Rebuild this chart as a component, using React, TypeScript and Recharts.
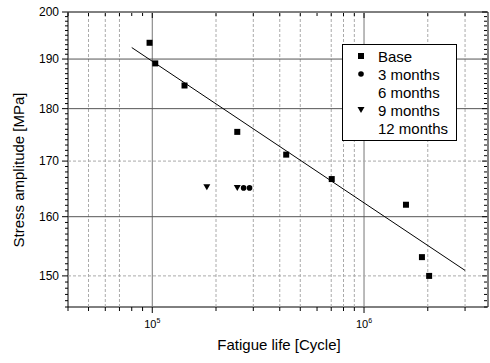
import React from "react";
import { ScatterChart, Scatter, XAxis, YAxis, ReferenceLine, ReferenceArea, Legend } from "recharts";

// fatigue data
const baseLife = [97100, 103300, 142000, 252000, 429000, 704000, 1578000, 1877000, 2030000];
const baseStress = [193.4, 189.1, 184.6, 175.5, 171.2, 166.7, 162.1, 153.1, 150.0];
const month3Life = [270000, 288000];
const month3Stress = [165.1, 165.1];
const month9Life = [181000, 252000];
const month9Stress = [165.2, 165.1];
const fitLife = [80000, 3000000];
const fitStress = [192.4, 150.9];

const legendNames = ["Base", "3 months", "6 months", "9 months", "12 months"];
const legendShapes = ["square", "circle", "", "triangle", ""];

const xDomain = [40000, 3850000];
const yDomain = [145, 200];
const xTicks = [
  40000, 50000, 60000, 70000, 80000, 90000,
  100000, 200000, 300000, 400000, 500000, 600000, 700000, 800000, 900000,
  1000000, 2000000, 3000000,
];
const xMajor = [100000, 1000000];
const xSolidGrid = [100000, 1000000];
const xDashGrid = [50000, 60000, 70000, 200000, 300000, 400000, 500000, 700000, 800000, 900000, 2000000, 3000000];

const yLabels = [150, 160, 170, 180, 190, 200];
const yTicks = Array.from({ length: 56 }, (_, i) => 145 + i);
const ySolidGrid = [160, 180, 190];
const yDashGrid = [150, 170];

const toPoints = (xs: number[], ys: number[]) => xs.map((x, i) => ({ x, y: ys[i] }));

const FONT = "Arial, 'Liberation Sans', sans-serif";

const Square = (p: any) => <rect x={p.cx - 3} y={p.cy - 3} width={6} height={6} fill="#000" />;
const Dot = (p: any) => <circle cx={p.cx} cy={p.cy} r={2.8} fill="#000" />;
const Tri = (p: any) => (
  <path d={`M${p.cx - 3.5},${p.cy - 3}L${p.cx + 3.5},${p.cy - 3}L${p.cx},${p.cy + 3}Z`} fill="#000" />
);
const NoShape = () => <g />;

const BottomTick = (p: any) => {
  const v = p.payload.value;
  const major = xMajor.includes(v);
  return (
    <g>
      <line x1={p.x} x2={p.x} y1={p.y} y2={p.y + (major ? 6 : 4)} stroke="#000" strokeWidth={1} />
      {major && (
        <text x={p.x} y={p.y + 21} textAnchor="middle" fontSize={11} fontFamily={FONT} fill="#000">
          10
          <tspan fontSize={7} dy={-5}>{Math.round(Math.log10(v))}</tspan>
        </text>
      )}
    </g>
  );
};

// top axis sits 1px above the plot, ticks point down into it
const TopTick = (p: any) => {
  const major = xMajor.includes(p.payload.value);
  return <line x1={p.x} x2={p.x} y1={p.y + 1} y2={p.y + 1 + (major ? 5 : 3)} stroke="#000" strokeWidth={1} />;
};

const LeftTick = (p: any) => {
  const v = p.payload.value;
  const major = yLabels.includes(v);
  return (
    <g>
      <line x1={p.x - (major ? 6 : 3)} x2={p.x} y1={p.y} y2={p.y} stroke="#000" strokeWidth={1} />
      {major && (
        <text x={p.x - 9} y={p.y + 4} textAnchor="end" fontSize={12} fontFamily={FONT} fill="#000">
          {v}
        </text>
      )}
    </g>
  );
};

// right axis sits 1px right of the plot, ticks point left into it
const RightTick = (p: any) => {
  const major = yLabels.includes(p.payload.value);
  return <line x1={p.x - 1 - (major ? 5 : 3)} x2={p.x - 1} y1={p.y} y2={p.y} stroke="#000" strokeWidth={1} />;
};

const XTitle = () => (
  <text x={279} y={350} textAnchor="middle" fontSize={15} fontFamily={FONT} fill="#000">
    Fatigue life [Cycle]
  </text>
);

const YTitle = () => (
  <text
    x={24}
    y={170}
    transform="rotate(-90 24 170)"
    textAnchor="middle"
    fontSize={15}
    fontFamily={FONT}
    fill="#000"
  >
    Stress amplitude [MPa]
  </text>
);

const LegendBox = () => (
  <div
    style={{
      border: "1px solid #000",
      background: "#fff",
      width: 113,
      padding: "2px 0 3px 0",
      fontFamily: FONT,
      fontSize: 15,
      color: "#000",
    }}
  >
    {legendNames.map((name, i) => (
      <div key={name} style={{ display: "flex", alignItems: "center", height: 18 }}>
        <svg width={35} height={18}>
          {legendShapes[i] === "square" && <Square cx={18} cy={9} />}
          {legendShapes[i] === "circle" && <Dot cx={18} cy={9} />}
          {legendShapes[i] === "triangle" && <Tri cx={18} cy={9} />}
        </svg>
        <span>{name}</span>
      </div>
    ))}
  </div>
);

const App: React.FC = () => {
  return (
    <div style={{ position: "absolute", left: 0, top: 0 }}>
      <ScatterChart width={490} height={363} margin={{ top: 11, right: 1, bottom: 26, left: 20 }}>
        <XAxis
          xAxisId="b"
          dataKey="x"
          type="number"
          scale="log"
          domain={xDomain}
          allowDataOverflow
          ticks={xTicks}
          interval={0}
          tickSize={0}
          tickMargin={0}
          tickLine={false}
          tick={<BottomTick />}
          axisLine={false}
          height={30}
          label={{ content: XTitle }}
        />
        <XAxis
          xAxisId="t"
          dataKey="x"
          orientation="top"
          type="number"
          scale="log"
          domain={xDomain}
          allowDataOverflow
          ticks={xTicks}
          interval={0}
          tickSize={0}
          tickMargin={0}
          tickLine={false}
          tick={<TopTick />}
          axisLine={false}
          height={1}
        />
        <YAxis
          yAxisId="l"
          dataKey="y"
          type="number"
          scale="log"
          domain={yDomain}
          allowDataOverflow
          ticks={yTicks}
          interval={0}
          tickSize={0}
          tickMargin={0}
          tickLine={false}
          tick={<LeftTick />}
          axisLine={false}
          width={48}
          label={{ content: YTitle }}
        />
        <YAxis
          yAxisId="r"
          dataKey="y"
          orientation="right"
          type="number"
          scale="log"
          domain={yDomain}
          allowDataOverflow
          ticks={yTicks}
          interval={0}
          tickSize={0}
          tickMargin={0}
          tickLine={false}
          tick={<RightTick />}
          axisLine={false}
          width={1}
        />
        {xDashGrid.map((v) => (
          <ReferenceLine key={"xd" + v} xAxisId="b" yAxisId="l" x={v} stroke="#aaa" strokeDasharray="3 2" />
        ))}
        {xSolidGrid.map((v) => (
          <ReferenceLine key={"xs" + v} xAxisId="b" yAxisId="l" x={v} stroke="#777" />
        ))}
        {yDashGrid.map((v) => (
          <ReferenceLine key={"yd" + v} xAxisId="b" yAxisId="l" y={v} stroke="#aaa" strokeDasharray="3 2" />
        ))}
        {ySolidGrid.map((v) => (
          <ReferenceLine key={"ys" + v} xAxisId="b" yAxisId="l" y={v} stroke="#555" />
        ))}
        {/* plot frame */}
        <ReferenceArea
          xAxisId="b"
          yAxisId="l"
          x1={xDomain[0]}
          x2={xDomain[1]}
          y1={yDomain[0]}
          y2={yDomain[1]}
          fill="none"
          fillOpacity={0}
          stroke="#000"
          strokeOpacity={1}
          strokeWidth={1}
        />
        {/* invisible series so the mirrored top/right axes get drawn */}
        <Scatter xAxisId="t" yAxisId="r" data={toPoints(fitLife, fitStress)} shape={NoShape} isAnimationActive={false} />
        <Scatter
          xAxisId="b"
          yAxisId="l"
          data={toPoints(fitLife, fitStress)}
          line={{ stroke: "#000", strokeWidth: 1 }}
          shape={NoShape}
          isAnimationActive={false}
        />
        <Scatter xAxisId="b" yAxisId="l" name="Base" data={toPoints(baseLife, baseStress)} shape={Square} isAnimationActive={false} />
        <Scatter xAxisId="b" yAxisId="l" name="3 months" data={toPoints(month3Life, month3Stress)} shape={Dot} isAnimationActive={false} />
        <Scatter xAxisId="b" yAxisId="l" name="9 months" data={toPoints(month9Life, month9Stress)} shape={Tri} isAnimationActive={false} />
        <Legend
          layout="horizontal"
          verticalAlign="middle"
          align="center"
          content={<LegendBox />}
          wrapperStyle={{ left: 342, top: 44, width: 115, height: 94 }}
        />
      </ScatterChart>
    </div>
  );
};

export default App;
